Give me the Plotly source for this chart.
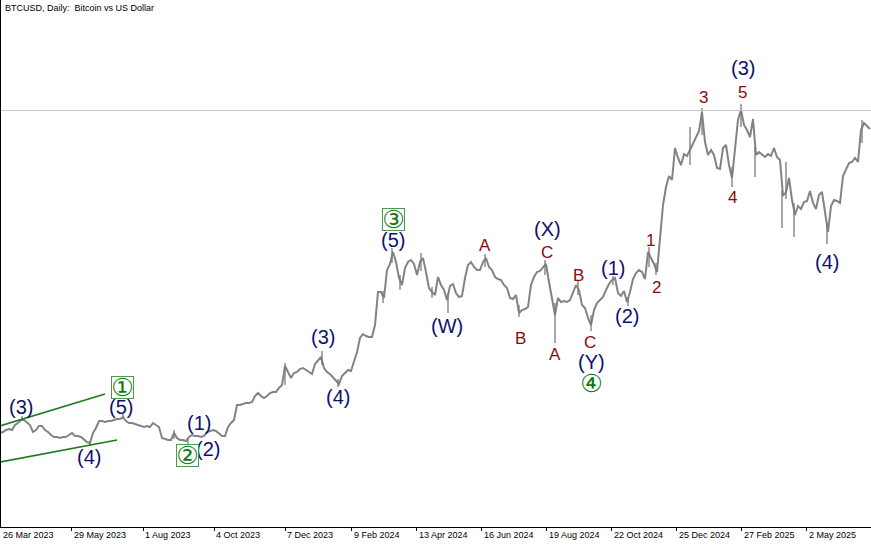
import plotly.graph_objects as go

# BTCUSD daily, every 3rd bar (bar index = position on the chart)
bar_step = 3
close_usd = [
    27500, 27750, 28250, 28500, 28250, 29500, 30000, 30750, 30750, 30000,
    29500, 27750, 28250, 29250, 29250, 28250, 27750, 27000, 26500, 26500,
    26250, 26500, 26500, 27000, 27500, 26750, 26750, 26500, 25750, 25250,
    25000, 27500, 28750, 30500, 30500, 30250, 30500, 30500, 30750, 31000,
    31000, 31500, 30500, 30000, 30000, 29750, 29500, 29250, 29000, 29250,
    29000, 30000, 29500, 29000, 26250, 26000, 25750, 25750, 27500, 26250,
    25750, 25750, 25500, 26500, 27000, 26750, 26750, 26500, 26750, 27750,
    28000, 28250, 28000, 27250, 26750, 26750, 29000, 30000, 30750, 34500,
    34500, 34750, 35000, 35000, 35250, 36750, 37500, 36750, 36250, 36750,
    37500, 37750, 37750, 38750, 39500, 44250, 42750, 41250, 42500, 42750,
    43500, 43750, 43250, 42750, 42250, 44750, 45750, 46500, 43750, 42750,
    42250, 41500, 40750, 39750, 41750, 42500, 43250, 43000, 45250, 47750,
    51250, 52250, 51750, 51500, 51500, 54500, 62750, 62750, 61250, 68250,
    69750, 72750, 70250, 66250, 64500, 68750, 70250, 70750, 69750, 67000,
    70250, 71250, 67750, 63750, 62750, 62000, 66500, 64500, 63250, 60750,
    64250, 64750, 62500, 61500, 61750, 66250, 69500, 70250, 69000, 68250,
    68250, 70250, 71250, 69000, 68250, 66500, 66000, 65750, 64500, 63750,
    61250, 61000, 62000, 57500, 58250, 58500, 59000, 64500, 66500, 67750,
    68000, 68750, 69750, 65250, 61250, 57000, 61250, 60250, 60500, 60250,
    60750, 62750, 64500, 63250, 59500, 58750, 56250, 54500, 58250, 60000,
    60750, 61500, 63250, 64750, 65750, 66250, 62500, 61750, 63000, 60250,
    62750, 66000, 67500, 68250, 67750, 66000, 72750, 71250, 69750, 67750,
    77250, 84500, 89000, 91750, 90750, 98750, 96250, 94500, 97250, 96750,
    98250, 99750, 101250, 103000, 107750, 100250, 97000, 98250, 97000, 93750,
    93500, 98750, 99500, 94500, 91250, 99500, 105750, 108250, 104500, 103250,
    101500, 106000, 97000, 97750, 97000, 96500, 97250, 96750, 98750, 96500,
    95750, 86750, 87750, 91250, 85750, 82000, 84250, 83500, 85250, 85500,
    88000, 85000, 83500, 87000, 87750, 82750, 77750, 84250, 85750, 85500,
    85000, 91750, 93500, 95000, 95250, 96250, 95250, 103250, 105000, 104250,
    103500,
]
bars = list(range(0, bar_step * len(close_usd), bar_step))

# long wicks that stick out of the bar band
wick_bar = [22, 90, 123, 174, 188, 285, 322, 338, 383, 392, 400, 421, 432, 448,
            485, 519, 545, 555, 578, 591, 613, 628, 649, 656, 690, 702, 732, 741,
            755, 782, 786, 794, 827, 862]
wick_low = [30500, 24250, 31000, 26000, 24750, 39500, 44500, 39000, 60000, 70000,
            63250, 68000, 61250, 57500, 69000, 56500, 67000, 50000, 62000, 53000,
            64500, 59250, 69000, 67000, 94500, 102000, 89000, 104000, 91500, 78750,
            86000, 76500, 74750, 100000]
wick_high = [31750, 25500, 32250, 28250, 26000, 45000, 48000, 41000, 63000, 73750,
             67000, 72500, 64000, 62500, 72250, 59500, 70750, 60000, 65500, 57000,
             66750, 61500, 74000, 70000, 104000, 108750, 94000, 109750, 99000, 88000,
             95250, 85000, 80000, 105750]

# date labels under the axis (bar index, text)
tick_bars = [1, 71.7, 143.3, 214.3, 285, 351.7, 416.7, 481.7, 546.7, 611.7,
             676.7, 741.7, 806.7]
tick_text = ["26 Mar 2023", "29 May 2023", "1 Aug 2023", "4 Oct 2023",
             "7 Dec 2023", "9 Feb 2024", "13 Apr 2024", "16 Jun 2024",
             "19 Aug 2024", "22 Oct 2024", "25 Dec 2024", "27 Feb 2025", "2 May 2025"]

bid_price = 108120

# Elliott wave labels: (bar, price, text)
navy_labels = [
    (21, 34000, "(3)"), (121, 34000, "(5)"), (89, 21500, "(4)"),
    (199, 30000, "(1)"), (208, 23500, "(2)"), (323, 51500, "(3)"),
    (338, 36500, "(4)"), (393, 75750, "(5)"), (447, 54250, "(W)"),
    (547, 78500, "(X)"), (591, 45250, "(Y)"), (613, 68750, "(1)"),
    (627, 56750, "(2)"), (743, 118750, "(3)"), (827, 70250, "(4)"),
]
red_labels = [
    (485, 74500, "A"), (520, 51250, "B"), (547, 72750, "C"),
    (555, 47250, "A"), (578, 67000, "B"), (590, 50250, "C"),
    (650, 75750, "1"), (656, 64000, "2"), (703, 111500, "3"),
    (732, 86500, "4"), (742, 112750, "5"),
]
green_labels = [
    (122, 39000, "①", True), (187, 22000, "②", True),
    (393, 81000, "③", True), (591, 40000, "④", False),
]

# channel lines on the first leg: (bar0, price0, bar1, price1)
channel = [(0, 29250, 105, 37250), (0, 20250, 117, 25750)]

fig = go.Figure()

fig.add_trace(go.Scatter(x=bars, y=close_usd, mode="lines",
                         line=dict(color="#838383", width=2),
                         hoverinfo="skip", showlegend=False))

wx, wy = [], []
for b, lo, hi in zip(wick_bar, wick_low, wick_high):
    wx += [b, b, None]
    wy += [lo, hi, None]
fig.add_trace(go.Scatter(x=wx, y=wy, mode="lines",
                         line=dict(color="#7a7a7a", width=1.3),
                         hoverinfo="skip", showlegend=False))

fig.add_hline(y=bid_price, line=dict(color="#c8c8c8", width=1))

for x0, y0, x1, y1 in channel:
    fig.add_shape(type="line", x0=x0, y0=y0, x1=x1, y1=y1,
                  line=dict(color="#1f7a1f", width=1.6))

for b, p, t in navy_labels:
    fig.add_annotation(x=b, y=p, text=t, showarrow=False,
                       font=dict(family="Liberation Sans, Arial", size=20, color="#10106e"))
for b, p, t in red_labels:
    fig.add_annotation(x=b, y=p, text=t, showarrow=False,
                       font=dict(family="Liberation Sans, Arial", size=17, color="#8b0a0a"))
for b, p, t, boxed in green_labels:
    fig.add_annotation(x=b, y=p, text=t, showarrow=False,
                       width=21, height=21, valign="middle",
                       font=dict(family="DejaVu Sans", size=25, color="#117a11"),
                       bordercolor="#4a9a4a" if boxed else "rgba(0,0,0,0)",
                       borderwidth=1, borderpad=0,
                       bgcolor="#ffffff" if boxed else "rgba(0,0,0,0)")

for b, t in zip(tick_bars, tick_text):
    fig.add_annotation(x=b, y=0, xref="x", yref="paper", text=t, showarrow=False,
                       xanchor="left", yanchor="top", yshift=-1, xshift=0,
                       font=dict(family="Liberation Sans, Arial", size=9, color="#000000"))

fig.add_annotation(x=0, y=1, xref="paper", yref="paper", xanchor="left", yanchor="top",
                   xshift=2, yshift=-1, showarrow=False,
                   text="BTCUSD, Daily:  Bitcoin vs US Dollar",
                   font=dict(family="Liberation Sans, Arial", size=9, color="#000000"))

fig.update_layout(
    width=871, height=545,
    margin=dict(l=1, r=0, t=0, b=18),
    paper_bgcolor="white", plot_bgcolor="white",
    showlegend=False,
    xaxis=dict(range=[1, 871], showgrid=False, zeroline=False,
               showline=True, linecolor="#000000", linewidth=1,
               tickmode="array", tickvals=tick_bars[1:], ticks="outside",
               ticklen=3, tickcolor="#000000", showticklabels=False),
    yaxis=dict(range=[4000, 135750], showgrid=False, zeroline=False,
               showline=True, linecolor="#000000", linewidth=1,
               showticklabels=False, ticks=""),
)

# page has a default 8px body margin; drop it so the chart sits in the corner
fig.write_html("out.html", config={"displayModeBar": False},
               post_script="document.body.style.margin='0px';")
